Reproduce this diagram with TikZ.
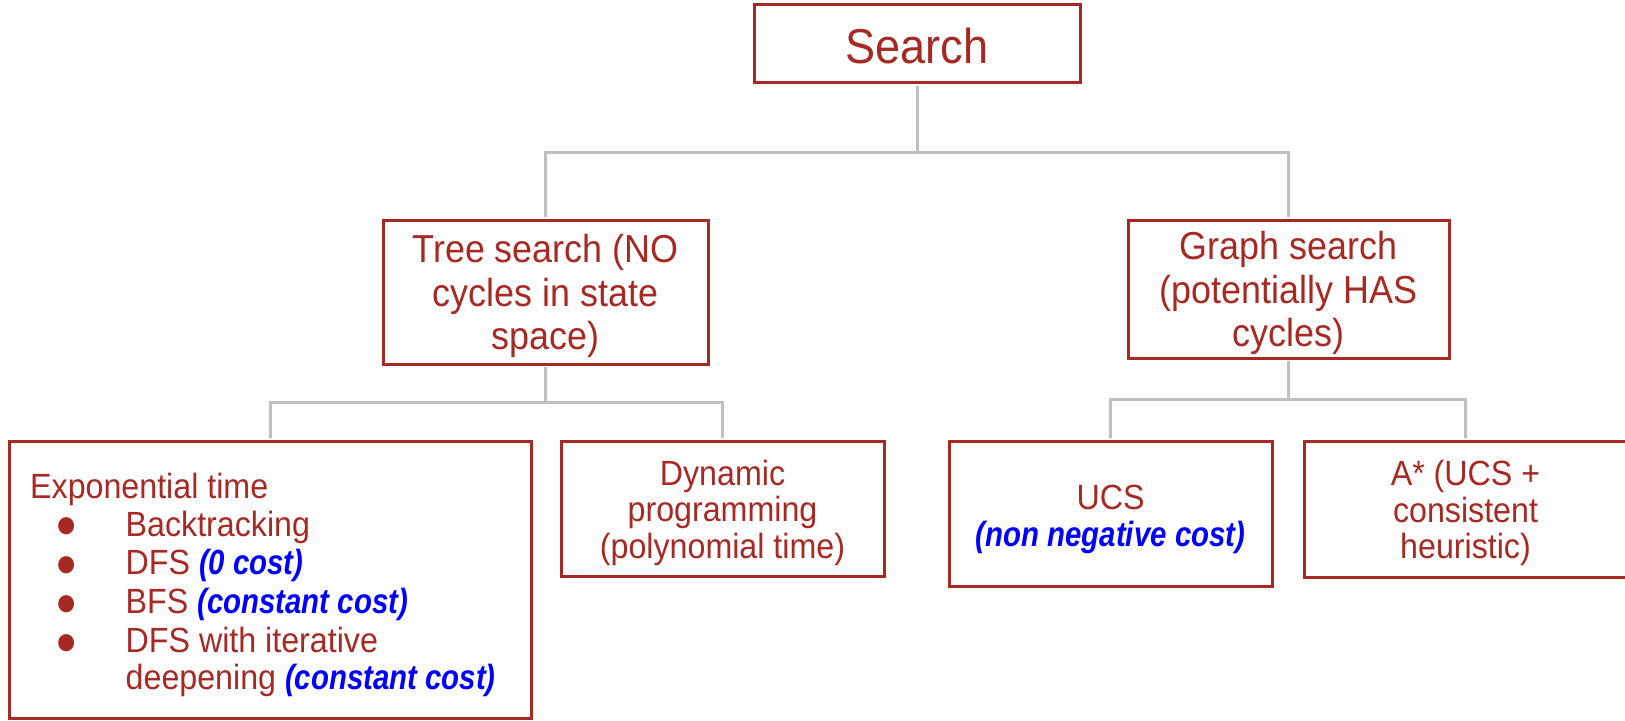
\documentclass[tikz,border=0pt]{standalone}
\usepackage{fontspec}
\setmainfont{Liberation Sans}[FakeStretch=0.92]
\newfontfamily\costfont{Liberation Sans}[FakeStretch=0.84]
\definecolor{dred}{RGB}{166,41,35}
\definecolor{cblue}{RGB}{0,0,255}
\definecolor{lgray}{RGB}{192,192,192}
\newcommand{\costtxt}[1]{{\costfont\bfseries\itshape\color{cblue}#1}}
\begin{document}
\begin{tikzpicture}[x=1bp,y=-1bp,
  box/.style={draw=dred, line width=3bp, inner sep=0pt},
  txt/.style={text=dred, align=center, inner sep=0pt},
  conn/.style={draw=lgray, line width=3bp, shorten <=1.5bp, shorten >=1.5bp},
  lbl/.style={text=dred, anchor=base west, inner sep=0pt},
  bul/.style={text=dred, inner sep=0pt, font=\fontsize{40bp}{40bp}\selectfont},
  big/.style={font=\fontsize{49bp}{58bp}\selectfont},
  mid/.style={font=\fontsize{39bp}{43.5bp}\selectfont},
  low/.style={font=\fontsize{35bp}{36.5bp}\selectfont}]
\useasboundingbox (0,0) rectangle (1625,721);
% boxes
\node[box,minimum width=326bp,minimum height=78bp] (search) at (917,44) {};
\node[box,minimum width=325bp,minimum height=144bp] (tree) at (545.5,292) {};
\node[box,minimum width=321bp,minimum height=138bp] (graph) at (1288.5,289) {};
\node[box,minimum width=521bp,minimum height=277bp] (exp) at (270.5,579.5) {};
\node[box,minimum width=323bp,minimum height=135bp] (dp) at (722.5,508.5) {};
\node[box,minimum width=323bp,minimum height=145bp] (ucs) at (1110.5,513.5) {};
\node[box,minimum width=323bp,minimum height=136bp] (astar) at (1465.5,509) {};
% box texts
\node[txt,big] (searcht) at ([yshift=-2bp]search.center) {Search};
\node[txt,mid] (treet) at ([yshift=-4bp]tree.center) {Tree search (NO\\cycles in state\\space)};
\node[txt,mid] (grapht) at ([yshift=-4bp]graph.center) {Graph search\\(potentially HAS\\cycles)};
\node[txt,low] (dpt) at ([yshift=-4bp]dp.center) {Dynamic\\programming\\(polynomial time)};
\node[txt,low] (ucst) at ([yshift=-6bp]ucs.center) {UCS\\\costtxt{(non negative cost)}};
\node[txt,low] (astart) at ([yshift=-4bp]astar.center) {A* (UCS +\\consistent\\heuristic)};
% list in exp box
\node[lbl,low] (e0) at (30,498) {Exponential time};
\node[bul] (d1) at (67,527.5) {●};
\node[bul] (d2) at (67,567) {●};
\node[bul] (d3) at (67,606) {●};
\node[bul] (d4) at (67,644.5) {●};
\node[lbl,low] (i1) at (125.5,536.5) {Backtracking};
\node[lbl,low] (i2) at (125.5,574.5) {DFS \costtxt{(0 cost)}};
\node[lbl,low] (i3) at (125.5,613) {BFS \costtxt{(constant cost)}};
\node[lbl,low] (i4) at (125.5,652) {DFS with iterative};
\node[lbl,low] (i5) at (125.5,689) {deepening \costtxt{(constant cost)}};
% connectors
\coordinate (bar1) at (0,152);
\coordinate (bar2) at (0,402);
\coordinate (bar3) at (0,399);
\draw[conn] (search.south) -- (search.south |- bar1) -| (tree.north);
\draw[conn] (search.south |- bar1) -| (graph.north);
\draw[conn] (tree.south) -- (tree.south |- bar2) -| (exp.north);
\draw[conn] (tree.south |- bar2) -| (dp.north);
\draw[conn] (graph.south) -- (graph.south |- bar3) -| (ucs.north);
\draw[conn] (graph.south |- bar3) -| (astar.north);
\end{tikzpicture}
\end{document}
